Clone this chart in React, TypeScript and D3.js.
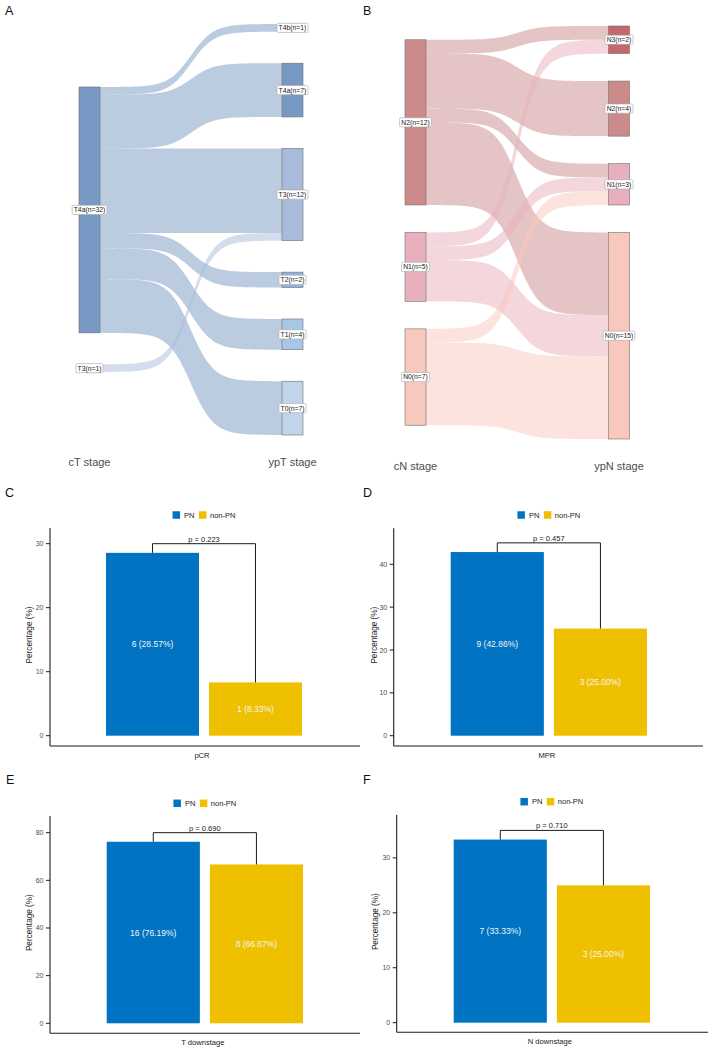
import React from "react";
import * as d3 from "d3";

const FONT = "'Liberation Sans', Arial, Helvetica, sans-serif";

// ---- Panel A: clinical T stage -> pathological T stage ----
const ctStages = ["T4a", "T3"];
const yptStages = ["T4b", "T4a", "T3", "T2", "T1", "T0"];
const tFlowSource = ["T4a", "T4a", "T4a", "T4a", "T4a", "T4a", "T3"];
const tFlowTarget = ["T4b", "T4a", "T3", "T2", "T1", "T0", "T3"];
const tFlowCount = [1, 7, 11, 2, 4, 7, 1];
const ctColors = ["#7899C4", "#A9BBDB"];
const yptColors = ["#6A8BBE", "#7899C4", "#A9BBDB", "#8DB4DF", "#A6C7E5", "#C0D5EB"];

// ---- Panel B: clinical N stage -> pathological N stage ----
const cnStages = ["N2", "N1", "N0"];
const ypnStages = ["N3", "N2", "N1", "N0"];
const nFlowSource = ["N2", "N2", "N2", "N2", "N1", "N1", "N1", "N0", "N0"];
const nFlowTarget = ["N3", "N2", "N1", "N0", "N3", "N1", "N0", "N1", "N0"];
const nFlowCount = [1, 4, 1, 6, 1, 1, 3, 1, 6];
const cnColors = ["#CC8A8B", "#E8B0BC", "#F9C8BC"];
const ypnColors = ["#C4686D", "#CC8A8B", "#E8B0BC", "#F9C8BC"];

// ---- Panels C-F: response rates by group ----
const groups = ["PN", "non-PN"];
const groupColors = ["#0073C2", "#EFC000"];
const outcomes = ["pCR", "MPR", "T downstage", "N downstage"];
const pnCounts = [6, 9, 16, 7];
const pnPct = [28.57, 42.86, 76.19, 33.33];
const nonPnCounts = [1, 3, 8, 3];
const nonPnPct = [8.33, 25.0, 66.67, 25.0];
const pValues = ["0.223", "0.457", "0.690", "0.710"];
const yTicks = [
  [0, 10, 20, 30],
  [0, 10, 20, 30, 40],
  [0, 20, 40, 60, 80],
  [0, 10, 20, 30],
];
const yLimits = [
  [-1.61, 32.45],
  [-2.4, 48.4],
  [-4.2, 87.0],
  [-1.75, 37.8],
];

let measureCtx: CanvasRenderingContext2D | null = null;
function textWidth(s: string, size: number): number {
  if (!measureCtx) {
    const c = document.createElement("canvas");
    measureCtx = c.getContext("2d");
  }
  if (!measureCtx) return s.length * size * 0.55;
  measureCtx.font = `${size}px 'Liberation Sans', Arial, sans-serif`;
  return measureCtx.measureText(s).width;
}

type SankeyProps = {
  left: string[];
  right: string[];
  leftColors: string[];
  rightColors: string[];
  src: string[];
  tgt: string[];
  count: number[];
  gap: number;
  xLeft: number;
  xRight: number;
  top: number;
  bottom: number;
  axisNames: string[];
  axisY: number;
  letter: string;
  letterX: number;
  letterY: number;
};

function Sankey(p: SankeyProps) {
  const nodeW = 21;
  const leftTotals = p.left.map((s) => d3.sum(p.src.map((v, i) => (v === s ? p.count[i] : 0))));
  const rightTotals = p.right.map((s) => d3.sum(p.tgt.map((v, i) => (v === s ? p.count[i] : 0))));

  const colHeight = (tot: number[]) => d3.sum(tot) + p.gap * (tot.length - 1);
  const H = Math.max(colHeight(leftTotals), colHeight(rightTotals));
  const y = d3.scaleLinear().domain([-H / 2, H / 2]).range([p.top, p.bottom]);
  const x = d3.scalePoint<string>().domain(p.axisNames).range([p.xLeft, p.xRight]);

  const stack = (names: string[], tot: number[]) => {
    let cur = -colHeight(tot) / 2;
    return names.map((n, i) => {
      const node = { name: n, total: tot[i], y0: cur, y1: cur + tot[i] };
      cur += tot[i] + p.gap;
      return node;
    });
  };
  const leftNodes = stack(p.left, leftTotals);
  const rightNodes = stack(p.right, rightTotals);

  const flows = p.src.map((s, i) => ({
    s,
    t: p.tgt[i],
    v: p.count[i],
    si: p.left.indexOf(s),
    ti: p.right.indexOf(p.tgt[i]),
    sy0: 0,
    ty0: 0,
  }));
  // outgoing offsets, ordered by target
  leftNodes.forEach((n, si) => {
    let c = n.y0;
    flows
      .filter((f) => f.si === si)
      .sort((a, b) => a.ti - b.ti)
      .forEach((f) => {
        f.sy0 = c;
        c += f.v;
      });
  });
  // incoming offsets, ordered by source
  rightNodes.forEach((n, ti) => {
    let c = n.y0;
    flows
      .filter((f) => f.ti === ti)
      .sort((a, b) => a.si - b.si)
      .forEach((f) => {
        f.ty0 = c;
        c += f.v;
      });
  });

  const x0 = (x(p.axisNames[0]) as number) + nodeW / 2;
  const x1 = (x(p.axisNames[1]) as number) - nodeW / 2;
  const smooth = 8;
  const ts = d3.range(0, 101).map((k) => k / 100);
  const area = d3
    .area<{ x: number; a: number; b: number }>()
    .x((d) => d.x)
    .y0((d) => d.a)
    .y1((d) => d.b);

  const linkPath = (f: (typeof flows)[number]) => {
    const pts = ts.map((t) => {
      const z = t * 2 * smooth - smooth;
      const s = 1 / (1 + Math.exp(-z));
      const a = f.sy0 + (f.ty0 - f.sy0) * s;
      return { x: x0 + (x1 - x0) * t, a: y(a), b: y(a + f.v) };
    });
    return area(pts) || "";
  };

  const labelSize = 6.8;
  const renderLabel = (n: { name: string; total: number; y0: number; y1: number }, cx: number, key: string) => {
    const txt = `${n.name}(n=${n.total})`;
    const w = textWidth(txt, labelSize) + 3.2;
    const h = 9.2;
    const cy = y((n.y0 + n.y1) / 2);
    return (
      <g key={key}>
        <rect x={cx - w / 2} y={cy - h / 2} width={w} height={h} rx={1.2} fill="#ffffff" stroke="#a8a8a8" strokeWidth={0.6} />
        <text x={cx} y={cy + labelSize * 0.36} textAnchor="middle" fontSize={labelSize} fill="#222" fontFamily={FONT}>
          {txt}
        </text>
      </g>
    );
  };

  return (
    <g>
      <text x={p.letterX} y={p.letterY} fontSize={12.5} fontFamily={FONT} fill="#111">
        {p.letter}
      </text>
      {flows.map((f, i) => (
        <path key={i} d={linkPath(f)} fill={p.leftColors[f.si]} fillOpacity={0.5} stroke="none" />
      ))}
      {leftNodes.map((n, i) => (
        <rect
          key={"l" + i}
          x={(x(p.axisNames[0]) as number) - nodeW / 2}
          y={y(n.y0)}
          width={nodeW}
          height={y(n.y1) - y(n.y0)}
          fill={p.leftColors[i]}
          stroke="#6f6f6f"
          strokeWidth={0.6}
        />
      ))}
      {rightNodes.map((n, i) => (
        <rect
          key={"r" + i}
          x={(x(p.axisNames[1]) as number) - nodeW / 2}
          y={y(n.y0)}
          width={nodeW}
          height={y(n.y1) - y(n.y0)}
          fill={p.rightColors[i]}
          stroke="#6f6f6f"
          strokeWidth={0.6}
        />
      ))}
      {leftNodes.map((n, i) => renderLabel(n, x(p.axisNames[0]) as number, "ll" + i))}
      {rightNodes.map((n, i) => renderLabel(n, x(p.axisNames[1]) as number, "rl" + i))}
      {p.axisNames.map((a) => (
        <text key={a} x={x(a) as number} y={p.axisY} textAnchor="middle" fontSize={11} fill="#4d4d4d" fontFamily={FONT}>
          {a}
        </text>
      ))}
    </g>
  );
}

type BarLayout = {
  letter: string;
  lx: number;
  ly: number;
  axisX: number;
  axisRight: number;
  axisTop: number;
  axisBottom: number;
  barL: number;
  barR: number;
  legendY: number;
  catY: number;
  titleX: number;
};

const barLayouts: BarLayout[] = [
  { letter: "C", lx: 5, ly: 497, axisX: 50, axisRight: 360, axisTop: 528, axisBottom: 746, barL: 106, barR: 302, legendY: 515, catY: 758, titleX: 32 },
  { letter: "D", lx: 363, ly: 497, axisX: 393.7, axisRight: 703, axisTop: 528.3, axisBottom: 746, barL: 450.7, barR: 647, legendY: 515, catY: 758, titleX: 377 },
  { letter: "E", lx: 6, ly: 784, axisX: 50, axisRight: 360, axisTop: 816, axisBottom: 1033.3, barL: 106.7, barR: 303, legendY: 803.3, catY: 1044.5, titleX: 32 },
  { letter: "F", lx: 363, ly: 783.5, axisX: 396.7, axisRight: 708, axisTop: 815, axisBottom: 1032.3, barL: 453.7, barR: 650, legendY: 801.7, catY: 1043.5, titleX: 378 },
];

function BarPanel({ idx }: { idx: number }) {
  const L = barLayouts[idx];
  const y = d3.scaleLinear().domain(yLimits[idx]).range([L.axisBottom, L.axisTop]);
  const x = d3.scaleBand<string>().domain(groups).range([L.barL, L.barR]).paddingInner(0.097);
  const pct = [pnPct[idx], nonPnPct[idx]];
  const cnt = [pnCounts[idx], nonPnCounts[idx]];
  const bw = x.bandwidth();
  const centers = groups.map((g) => (x(g) as number) + bw / 2);
  const bracketY = y(d3.max(pct)! * 1.05);
  const midX = (L.barL + L.barR) / 2;

  // legend layout
  const key = 7.5;
  const lgSize = 7.5;
  const wPN = textWidth(groups[0], lgSize);
  const wNon = textWidth(groups[1], lgSize);
  const legendW = key + 4 + wPN + 4.5 + key + 3.5 + wNon;
  const lgX = midX - legendW / 2;
  const k2 = lgX + key + 4 + wPN + 4.5;

  const dark = "#1c1c1c";
  return (
    <g fontFamily={FONT}>
      <text x={L.lx} y={L.ly} fontSize={12.5} fill="#111">
        {L.letter}
      </text>
      {/* legend */}
      <rect x={lgX} y={L.legendY - key / 2} width={key} height={key} fill={groupColors[0]} />
      <text x={lgX + key + 4} y={L.legendY + 2.7} fontSize={lgSize} fill="#222">
        {groups[0]}
      </text>
      <rect x={k2} y={L.legendY - key / 2} width={key} height={key} fill={groupColors[1]} />
      <text x={k2 + key + 3.5} y={L.legendY + 2.7} fontSize={lgSize} fill="#222">
        {groups[1]}
      </text>
      {/* bars */}
      {groups.map((g, i) => (
        <rect key={g} x={x(g)} y={y(pct[i])} width={bw} height={y(0) - y(pct[i])} fill={groupColors[i]} />
      ))}
      {groups.map((g, i) => (
        <text
          key={"t" + g}
          x={centers[i]}
          y={y(pct[i] / 2) + 3}
          textAnchor="middle"
          fontSize={8.5}
          fill="#f4f4f4"
        >
          {`${cnt[i]} (${pct[i].toFixed(2)}%)`}
        </text>
      ))}
      {/* significance bracket */}
      <path
        d={`M${centers[0]},${y(pct[0])}V${bracketY}H${centers[1]}V${y(pct[1])}`}
        fill="none"
        stroke={dark}
        strokeWidth={1}
      />
      <text x={(centers[0] + centers[1]) / 2} y={bracketY - 2} textAnchor="middle" fontSize={7.5} fill="#222">
        {`p = ${pValues[idx]}`}
      </text>
      {/* axes */}
      <line x1={L.axisX} x2={L.axisX} y1={L.axisTop} y2={L.axisBottom} stroke={dark} strokeWidth={1.1} />
      <line x1={L.axisX} x2={L.axisRight} y1={L.axisBottom} y2={L.axisBottom} stroke={dark} strokeWidth={1.1} />
      {yTicks[idx].map((t) => (
        <g key={t}>
          <line x1={L.axisX - 4} x2={L.axisX} y1={y(t)} y2={y(t)} stroke={dark} strokeWidth={1} />
          <text x={L.axisX - 6.5} y={y(t) + 2.5} textAnchor="end" fontSize={7} fill="#4d4d4d">
            {t}
          </text>
        </g>
      ))}
      <text
        transform={`translate(${L.titleX},${(L.axisTop + L.axisBottom) / 2 - 2}) rotate(-90)`}
        textAnchor="middle"
        fontSize={8.2}
        fill="#222"
      >
        Percentage (%)
      </text>
      <text x={midX - 2} y={L.catY} textAnchor="middle" fontSize={7.6} fill="#222">
        {outcomes[idx]}
      </text>
    </g>
  );
}

export default function App() {
  return (
    <svg
      width={712}
      height={1051}
      viewBox="0 0 712 1051"
      style={{ position: "absolute", left: 0, top: 0, background: "#ffffff" }}
    >
      <rect width={712} height={1051} fill="#ffffff" />
      <Sankey
        left={ctStages}
        right={yptStages}
        leftColors={ctColors}
        rightColors={yptColors}
        src={tFlowSource}
        tgt={tFlowTarget}
        count={tFlowCount}
        gap={4.1}
        xLeft={89.5}
        xRight={292.5}
        top={24}
        bottom={435}
        axisNames={["cT stage", "ypT stage"]}
        axisY={466}
        letter="A"
        letterX={5}
        letterY={15}
      />
      <Sankey
        left={cnStages}
        right={ypnStages}
        leftColors={cnColors}
        rightColors={ypnColors}
        src={nFlowSource}
        tgt={nFlowTarget}
        count={nFlowCount}
        gap={2}
        xLeft={415.5}
        xRight={619}
        top={26}
        bottom={439}
        axisNames={["cN stage", "ypN stage"]}
        axisY={470}
        letter="B"
        letterX={363}
        letterY={14.5}
      />
      {outcomes.map((o, i) => (
        <BarPanel key={o} idx={i} />
      ))}
    </svg>
  );
}
